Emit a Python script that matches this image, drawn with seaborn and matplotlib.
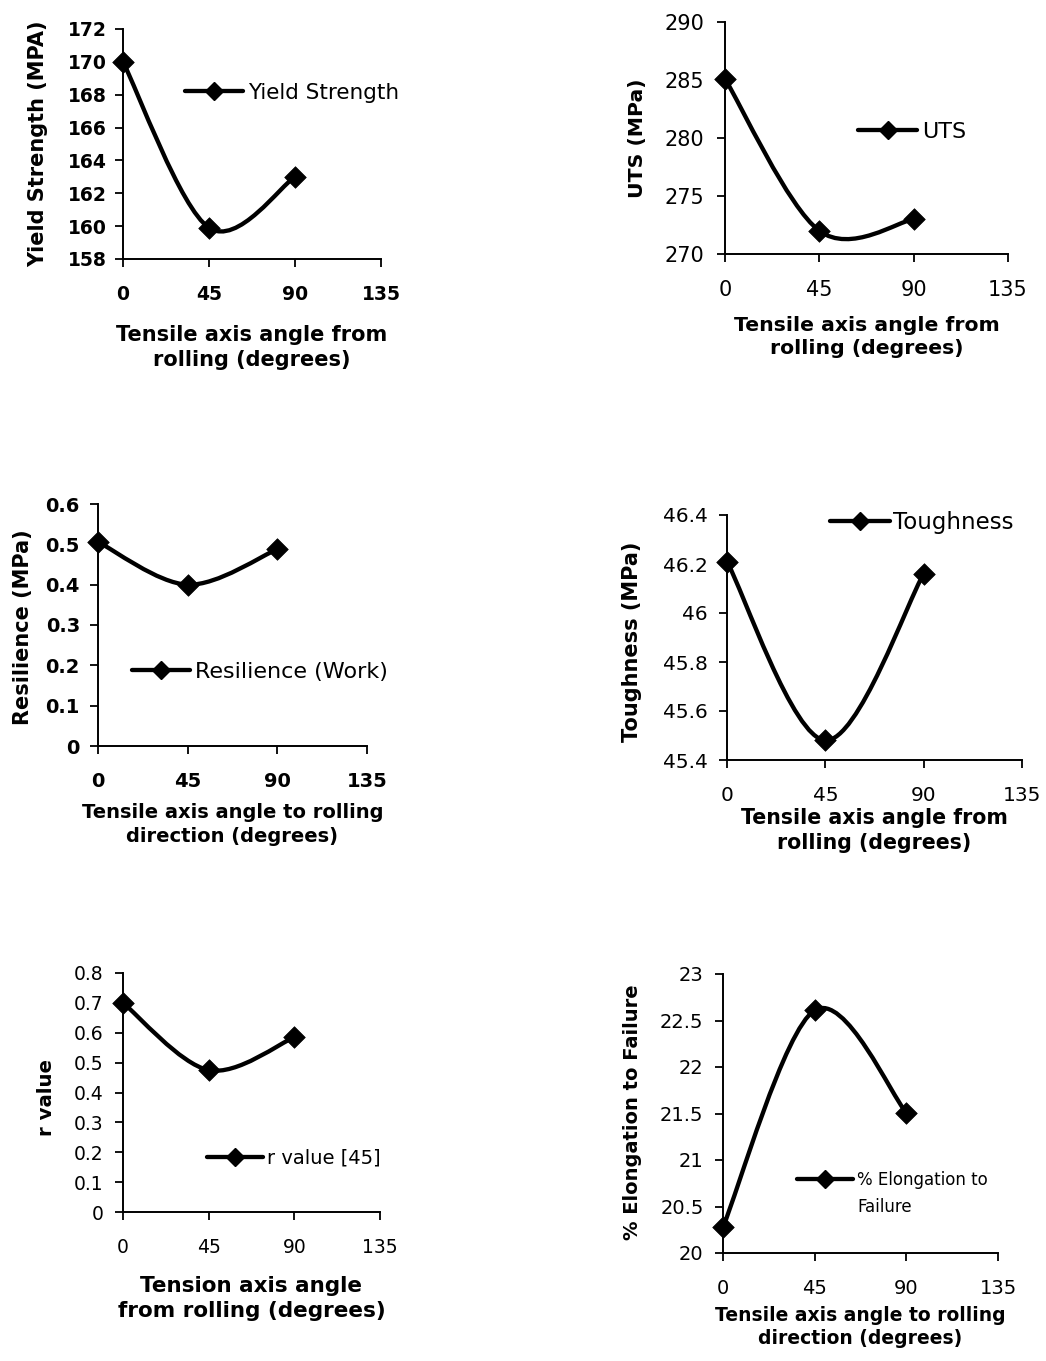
import numpy as np
import matplotlib
matplotlib.use('Agg')
import matplotlib.pyplot as plt
import seaborn as sns
from matplotlib.path import Path
from matplotlib.patches import PathPatch
from matplotlib.lines import Line2D

# ---------------- data ----------------
angles = [0, 45, 90]
yield_strength = [170.0, 159.9, 163.0]
uts = [285.1, 272.0, 273.0]
resilience = [0.506, 0.40, 0.488]
toughness = [46.21, 45.48, 46.16]
r_value = [0.70, 0.475, 0.585]
elongation = [20.28, 22.61, 21.51]

x_ticks = [0, 45, 90, 135]
yticks_ys = [158, 160, 162, 164, 166, 168, 170, 172]
yticks_uts = [270, 275, 280, 285, 290]
yticks_res = [0, 0.1, 0.2, 0.3, 0.4, 0.5, 0.6]
yticks_tough = [45.4, 45.6, 45.8, 46.0, 46.2, 46.4]
yticks_r = [0, 0.1, 0.2, 0.3, 0.4, 0.5, 0.6, 0.7, 0.8]
yticks_el = [20, 20.5, 21, 21.5, 22, 22.5, 23]

# ---------------- setup ----------------
W, H = 1046, 1361
sns.set_theme(style='ticks')
plt.rcParams['font.family'] = ['DejaVu Sans']

fig = plt.figure(figsize=(W / 100, H / 100), dpi=100)
fig.patch.set_facecolor('white')


def excel_smooth_path(xs, ys):
    pts = np.column_stack([xs, ys]).astype(float)
    n = len(pts)
    verts = [pts[0]]
    codes = [Path.MOVETO]
    for i in range(n - 1):
        p_prev = pts[i - 1] if i > 0 else pts[i]
        p0, p1 = pts[i], pts[i + 1]
        p_next = pts[i + 2] if i + 2 < n else pts[i + 1]
        c1 = p0 + (p1 - p_prev) / 6.0
        c2 = p1 - (p_next - p0) / 6.0
        verts += [c1, c2, p1]
        codes += [Path.CURVE4] * 3
    return Path(verts, codes)


def fmt(v):
    return '{:g}'.format(v)


LW = 3.1
MS = 11

panels = [
    dict(vals=yield_strength, yticks=yticks_ys, box=(123, 381, 29, 259),
         ylabel='Yield Strength (MPA)', ylab_c=(38, 144), ylab_fs=15,
         xlabel='Tensile axis angle from\nrolling (degrees)', xlab_top=325, xlab_fs=15,
         tick_fs=13.5, tick_bold=True, ypad=6,
         leg='Yield Strength', leg_pos=(185, 93), leg_len=58, leg_fs=15.5, leg_gap=5, leg2=None),
    dict(vals=uts, yticks=yticks_uts, box=(725, 1008, 22, 254),
         ylabel='UTS (MPa)', ylab_c=(637, 138), ylab_fs=14.7,
         xlabel='Tensile axis angle from\nrolling (degrees)', xlab_top=316, xlab_fs=14.7,
         tick_fs=15, tick_bold=False, ypad=9,
         leg='UTS', leg_pos=(858, 132), leg_len=59, leg_fs=16, leg_gap=5, leg2=None),
    dict(vals=resilience, yticks=yticks_res, box=(98, 367, 504, 746),
         ylabel='Resilience (MPa)', ylab_c=(23, 627), ylab_fs=15,
         xlabel='Tensile axis angle to rolling\ndirection (degrees)', xlab_top=803, xlab_fs=14,
         tick_fs=14, tick_bold=True, ypad=7,
         leg='Resilience (Work)', leg_pos=(132, 672), leg_len=58, leg_fs=16, leg_gap=5, leg2=None),
    dict(vals=toughness, yticks=yticks_tough, box=(727, 1022, 515, 760),
         ylabel='Toughness (MPa)', ylab_c=(632, 642), ylab_fs=15,
         xlabel='Tensile axis angle from\nrolling (degrees)', xlab_top=808, xlab_fs=14.8,
         tick_fs=14.5, tick_bold=False, ypad=8,
         leg='Toughness', leg_pos=(830, 523), leg_len=60, leg_fs=16.5, leg_gap=3, leg2=None),
    dict(vals=r_value, yticks=yticks_r, box=(123, 380, 973, 1212),
         ylabel='r value', ylab_c=(47, 1098), ylab_fs=14.2,
         xlabel='Tension axis angle\nfrom rolling (degrees)', xlab_top=1276, xlab_fs=15.5,
         tick_fs=13.5, tick_bold=False, ypad=8,
         leg='r value [45]', leg_pos=(207, 1158), leg_len=56, leg_fs=14, leg_gap=4, leg2=None),
    dict(vals=elongation, yticks=yticks_el, box=(723, 998, 974, 1253),
         ylabel='% Elongation to Failure', ylab_c=(632, 1112), ylab_fs=14,
         xlabel='Tensile axis angle to rolling\ndirection (degrees)', xlab_top=1306, xlab_fs=13.5,
         tick_fs=14, tick_bold=False, ypad=8,
         leg='% Elongation to', leg_pos=(797, 1180), leg_len=56, leg_fs=12, leg_gap=4,
         leg2=('Failure', 857, 1207)),
]

for p in panels:
    x0, x1, yt, yb = p['box']
    ax = fig.add_axes([x0 / W, 1 - yb / H, (x1 - x0) / W, (yb - yt) / H])
    ax.set_facecolor('white')

    def to_ax(px, py):
        return (px - x0) / (x1 - x0), (yb - py) / (yb - yt)

    # smooth Excel-style line through the data points
    path = excel_smooth_path(angles, p['vals'])
    ax.add_patch(PathPatch(path, fill=False, lw=LW, ec='black',
                           capstyle='round', joinstyle='round', zorder=2))
    sns.scatterplot(x=angles, y=p['vals'], marker='D', s=MS ** 2, color='black',
                    edgecolor='black', linewidth=0.5, ax=ax, zorder=3, legend=False,
                    clip_on=False)

    ax.set_xlim(x_ticks[0], x_ticks[-1])
    ax.set_ylim(p['yticks'][0], p['yticks'][-1])
    ax.set_xticks(x_ticks)
    ax.set_xticklabels([fmt(v) for v in x_ticks])
    ax.set_yticks(p['yticks'])
    ax.set_yticklabels([fmt(v) for v in p['yticks']])
    weight = 'bold' if p['tick_bold'] else 'normal'
    for lab in ax.get_xticklabels() + ax.get_yticklabels():
        lab.set_fontweight(weight)
        lab.set_fontsize(p['tick_fs'])
        lab.set_color('black')

    sns.despine(ax=ax)
    for s in ['left', 'bottom']:
        ax.spines[s].set_color('black')
        ax.spines[s].set_linewidth(1.4)
    ax.tick_params(axis='y', direction='out', length=6, width=1.3,
                   pad=p['ypad'], colors='black')
    ax.tick_params(axis='x', direction='out', length=6, width=1.3,
                   pad=13, colors='black')
    ax.grid(False)

    ax.set_xlabel(p['xlabel'], fontsize=p['xlab_fs'], fontweight='bold',
                  linespacing=1.3, color='black', va='top')
    ax.xaxis.set_label_coords(0.5, (yb - p['xlab_top']) / (yb - yt))
    ax.set_ylabel(p['ylabel'], fontsize=p['ylab_fs'], fontweight='bold',
                  color='black', va='center')
    ax.yaxis.set_label_coords(*to_ax(*p['ylab_c']))

    fs_px = p['leg_fs'] * 100 / 72
    handle = Line2D([], [], color='black', lw=LW, marker='D', markersize=MS * 0.85)
    leg = ax.legend([handle], [p['leg']], loc='center left',
                    bbox_to_anchor=to_ax(*p['leg_pos']),
                    frameon=False, borderpad=0, borderaxespad=0,
                    handlelength=p['leg_len'] / fs_px,
                    handletextpad=p['leg_gap'] / fs_px,
                    fontsize=p['leg_fs'])
    for t in leg.get_texts():
        t.set_color('black')
    if p['leg2'] is not None:
        txt, tx, ty = p['leg2']
        ax.text(*to_ax(tx, ty), txt, transform=ax.transAxes, fontsize=p['leg_fs'],
                ha='left', va='center', color='black')

fig.savefig('out.png', dpi=100, facecolor='white')
